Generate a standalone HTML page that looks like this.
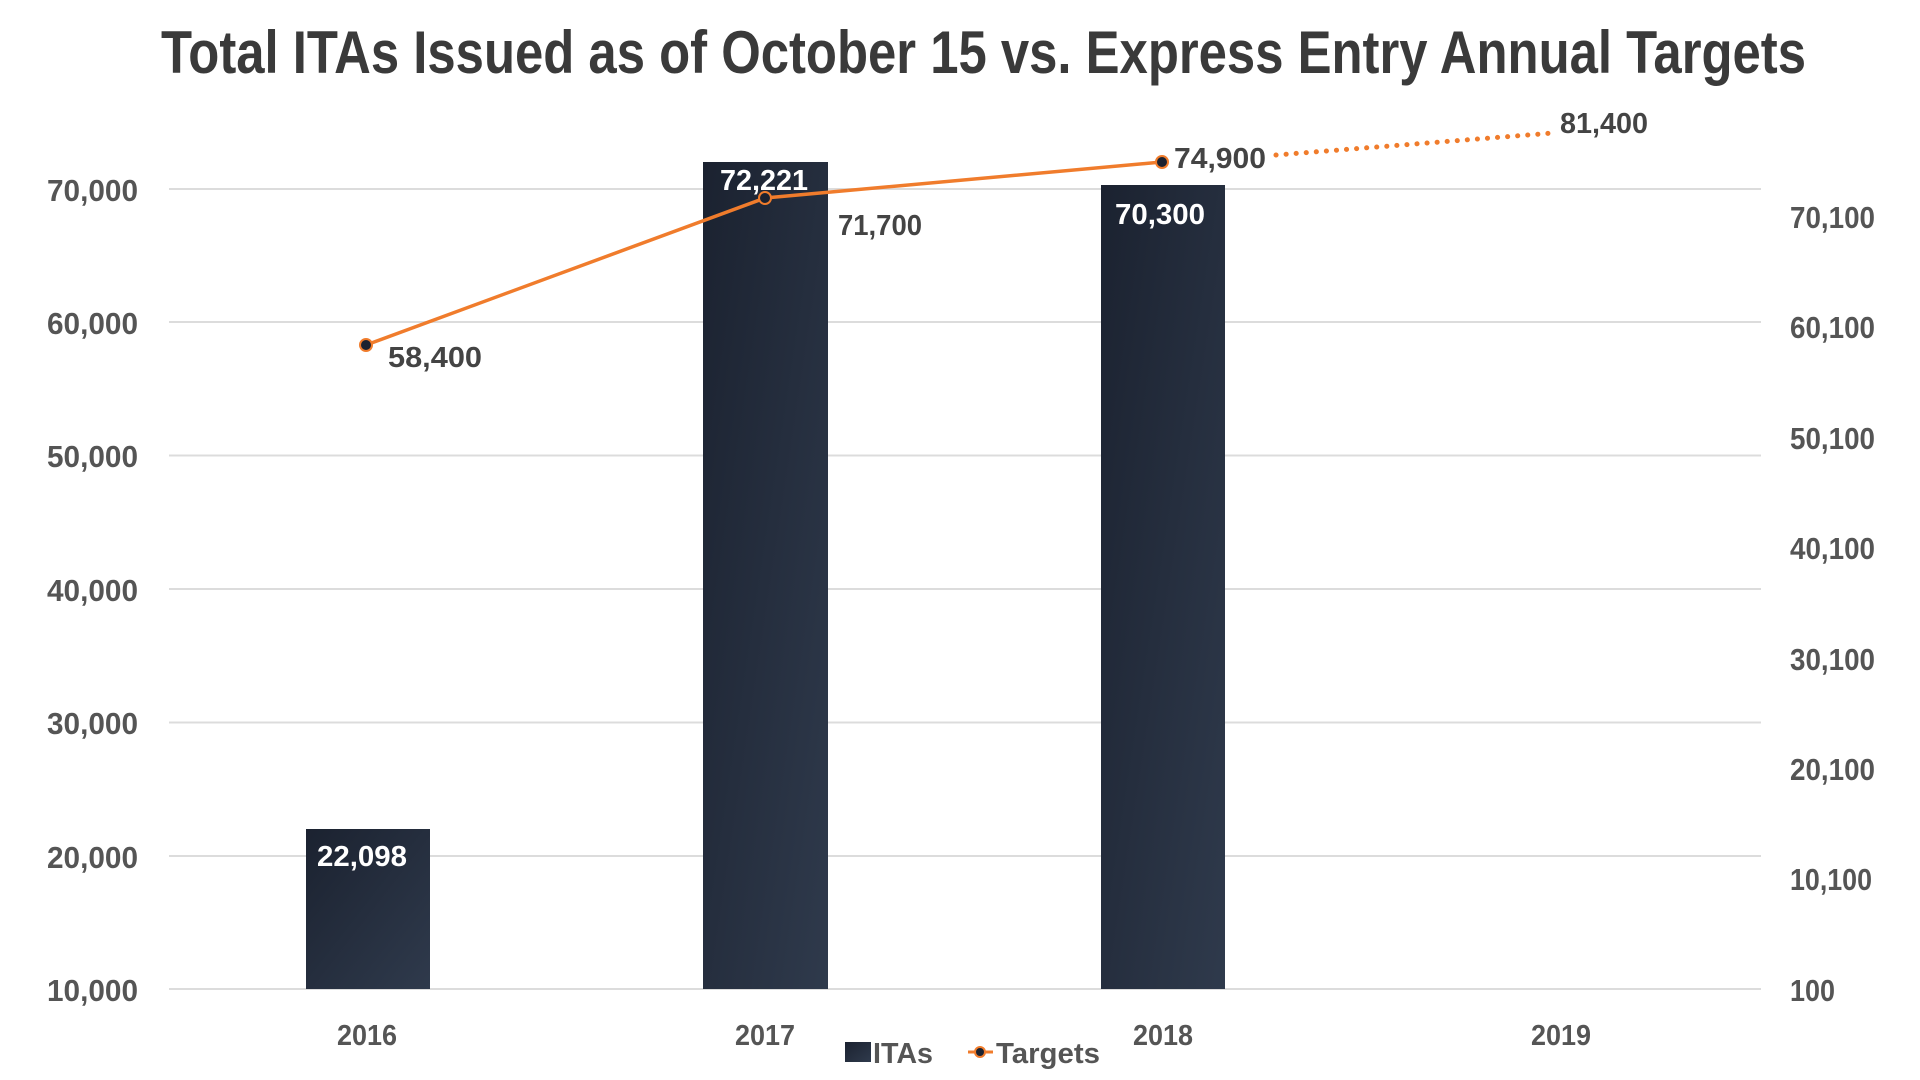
<!DOCTYPE html>
<html><head><meta charset="utf-8"><style>
html,body{margin:0;padding:0;background:#fff;}
svg{display:block;}
text{font-family:"Liberation Sans",sans-serif;font-weight:bold;}
</style></head><body>
<svg width="1920" height="1080" viewBox="0 0 1920 1080" xmlns="http://www.w3.org/2000/svg">
<defs>
<linearGradient id="bg" x1="0" y1="0" x2="1" y2="1">
<stop offset="0" stop-color="#1b2230"/><stop offset="1" stop-color="#2f3a4c"/>
</linearGradient>
</defs>
<text x="161" y="73" font-size="60" fill="#3a3a3a" textLength="1645" lengthAdjust="spacingAndGlyphs">Total ITAs Issued as of October 15 vs. Express Entry Annual Targets</text>
<g stroke="#dcdcdc" stroke-width="2">
<line x1="169" y1="189" x2="1761" y2="189"/>
<line x1="169" y1="322" x2="1761" y2="322"/>
<line x1="169" y1="455.5" x2="1761" y2="455.5"/>
<line x1="169" y1="589" x2="1761" y2="589"/>
<line x1="169" y1="722.5" x2="1761" y2="722.5"/>
<line x1="169" y1="856" x2="1761" y2="856"/>
<line x1="169" y1="989" x2="1761" y2="989"/>
</g>
<g font-size="31" fill="#555" text-anchor="end">
<text x="138" y="201" textLength="91" lengthAdjust="spacingAndGlyphs">70,000</text>
<text x="138" y="334" textLength="91" lengthAdjust="spacingAndGlyphs">60,000</text>
<text x="138" y="467" textLength="91" lengthAdjust="spacingAndGlyphs">50,000</text>
<text x="138" y="601" textLength="91" lengthAdjust="spacingAndGlyphs">40,000</text>
<text x="138" y="734" textLength="91" lengthAdjust="spacingAndGlyphs">30,000</text>
<text x="138" y="868" textLength="91" lengthAdjust="spacingAndGlyphs">20,000</text>
<text x="138" y="1001" textLength="91" lengthAdjust="spacingAndGlyphs">10,000</text>
</g>
<g font-size="31" fill="#555">
<text x="1790" y="228" textLength="85" lengthAdjust="spacingAndGlyphs">70,100</text>
<text x="1790" y="338" textLength="85" lengthAdjust="spacingAndGlyphs">60,100</text>
<text x="1790" y="449" textLength="85" lengthAdjust="spacingAndGlyphs">50,100</text>
<text x="1790" y="559" textLength="85" lengthAdjust="spacingAndGlyphs">40,100</text>
<text x="1790" y="670" textLength="85" lengthAdjust="spacingAndGlyphs">30,100</text>
<text x="1790" y="780" textLength="85" lengthAdjust="spacingAndGlyphs">20,100</text>
<text x="1790" y="890" textLength="82" lengthAdjust="spacingAndGlyphs">10,100</text>
<text x="1790" y="1001" textLength="45" lengthAdjust="spacingAndGlyphs">100</text>
</g>
<rect x="306" y="829" width="124" height="160" fill="url(#bg)"/>
<rect x="703" y="162" width="125" height="827" fill="url(#bg)"/>
<rect x="1101" y="185" width="124" height="804" fill="url(#bg)"/>
<g font-size="29" fill="#fff" text-anchor="middle">
<text x="362" y="866" textLength="90" lengthAdjust="spacingAndGlyphs">22,098</text>
<text x="764" y="190" textLength="88" lengthAdjust="spacingAndGlyphs">72,221</text>
<text x="1160" y="224" textLength="90" lengthAdjust="spacingAndGlyphs">70,300</text>
</g>
<polyline points="366,345 765,198 1162,162" fill="none" stroke="#f07c2c" stroke-width="3.5"/>
<line x1="1276" y1="155" x2="1553" y2="133" stroke="#f07c2c" stroke-width="5" stroke-linecap="round" stroke-dasharray="0.1 10"/>
<g fill="#1b2230" stroke="#f07c2c" stroke-width="2">
<circle cx="366" cy="345" r="6"/><circle cx="765" cy="198" r="6"/><circle cx="1162" cy="162" r="6"/>
</g>
<g font-size="29" fill="#444">
<text x="388" y="367" textLength="94" lengthAdjust="spacingAndGlyphs">58,400</text>
<text x="838" y="235" textLength="84" lengthAdjust="spacingAndGlyphs">71,700</text>
<text x="1174" y="168" textLength="92" lengthAdjust="spacingAndGlyphs">74,900</text>
<text x="1560" y="133" textLength="88" lengthAdjust="spacingAndGlyphs">81,400</text>
</g>
<g font-size="29" fill="#555" text-anchor="middle">
<text x="367" y="1045" textLength="60" lengthAdjust="spacingAndGlyphs">2016</text>
<text x="765" y="1045" textLength="60" lengthAdjust="spacingAndGlyphs">2017</text>
<text x="1163" y="1045" textLength="60" lengthAdjust="spacingAndGlyphs">2018</text>
<text x="1561" y="1045" textLength="60" lengthAdjust="spacingAndGlyphs">2019</text>
</g>
<rect x="845" y="1042" width="26" height="20" fill="url(#bg)"/>
<text x="873" y="1063" font-size="29" fill="#555" textLength="60" lengthAdjust="spacingAndGlyphs">ITAs</text>
<line x1="968" y1="1052" x2="993" y2="1052" stroke="#f07c2c" stroke-width="3"/>
<circle cx="980" cy="1052" r="5" fill="#1b2230" stroke="#f07c2c" stroke-width="2"/>
<text x="996" y="1063" font-size="29" fill="#555" textLength="104" lengthAdjust="spacingAndGlyphs">Targets</text>
</svg>
</body></html>
